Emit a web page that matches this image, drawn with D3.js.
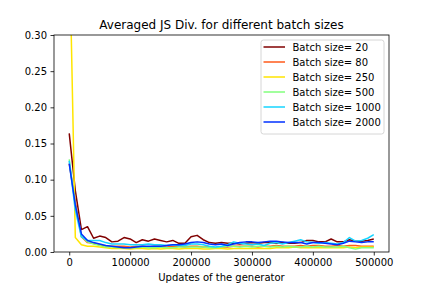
<!DOCTYPE html>
<html>
<head>
<meta charset="utf-8">
<script src="https://cdn.jsdelivr.net/npm/d3@7"></script>
<style>
  body { margin: 0; background: #fff; }
  text { font-family: "DejaVu Sans", sans-serif; fill: #000; }
</style>
</head>
<body>
<div id="chart"></div>
<script>
// steps of the generator
var steps = [0, 10000, 20000, 30000, 40000, 50000, 60000, 70000, 80000, 90000,
  100000, 110000, 120000, 130000, 140000, 150000, 160000, 170000, 180000, 190000,
  200000, 210000, 220000, 230000, 240000, 250000, 260000, 270000, 280000, 290000,
  300000, 310000, 320000, 330000, 340000, 350000, 360000, 370000, 380000, 390000,
  400000, 410000, 420000, 430000, 440000, 450000, 460000, 470000, 480000, 490000, 500000];

var batchSizes = [20, 80, 250, 500, 1000, 2000];
var colors = ["#800000", "#ff5a1a", "#ffe500", "#82ff7c", "#16d4ff", "#0030ff"];

var js20 = [0.164, 0.085, 0.031, 0.035, 0.019, 0.022, 0.020, 0.014, 0.015, 0.020,
  0.018, 0.013, 0.017, 0.015, 0.018, 0.016, 0.014, 0.016, 0.012, 0.012,
  0.021, 0.023, 0.017, 0.013, 0.012, 0.013, 0.012, 0.012, 0.011, 0.012,
  0.013, 0.012, 0.013, 0.013, 0.012, 0.013, 0.012, 0.012, 0.013, 0.016,
  0.016, 0.014, 0.014, 0.018, 0.014, 0.014, 0.017, 0.015, 0.015, 0.016, 0.018];
var js80 = [0.122, 0.070, 0.021, 0.013, 0.012, 0.010, 0.008, 0.008, 0.008, 0.008,
  0.007, 0.008, 0.008, 0.007, 0.008, 0.008, 0.007, 0.008, 0.008, 0.007,
  0.008, 0.008, 0.007, 0.007, 0.006, 0.007, 0.007, 0.008, 0.008, 0.008,
  0.008, 0.007, 0.008, 0.008, 0.009, 0.008, 0.008, 0.008, 0.009, 0.008,
  0.009, 0.009, 0.008, 0.008, 0.009, 0.008, 0.009, 0.009, 0.008, 0.008, 0.008];
var js250 = [0.440, 0.020, 0.010, 0.008, 0.008, 0.007, 0.006, 0.005, 0.005, 0.005,
  0.004, 0.005, 0.005, 0.004, 0.005, 0.004, 0.005, 0.005, 0.004, 0.005,
  0.005, 0.005, 0.004, 0.004, 0.005, 0.005, 0.004, 0.005, 0.005, 0.005,
  0.005, 0.005, 0.005, 0.005, 0.006, 0.006, 0.006, 0.007, 0.006, 0.006,
  0.006, 0.006, 0.006, 0.006, 0.006, 0.006, 0.007, 0.006, 0.007, 0.007, 0.007];
var js500 = [0.128, 0.065, 0.022, 0.014, 0.011, 0.009, 0.007, 0.007, 0.006, 0.006,
  0.006, 0.006, 0.007, 0.006, 0.006, 0.007, 0.006, 0.006, 0.007, 0.007,
  0.007, 0.007, 0.007, 0.006, 0.006, 0.007, 0.008, 0.008, 0.007, 0.008,
  0.007, 0.008, 0.008, 0.007, 0.008, 0.007, 0.008, 0.007, 0.007, 0.008,
  0.007, 0.008, 0.007, 0.007, 0.007, 0.008, 0.006, 0.004, 0.006, 0.006, 0.006];
var js1000 = [0.126, 0.058, 0.021, 0.016, 0.016, 0.016, 0.013, 0.011, 0.011, 0.011,
  0.010, 0.010, 0.010, 0.011, 0.010, 0.010, 0.009, 0.010, 0.009, 0.009,
  0.011, 0.011, 0.010, 0.008, 0.007, 0.008, 0.010, 0.014, 0.012, 0.011,
  0.010, 0.011, 0.009, 0.012, 0.013, 0.011, 0.013, 0.015, 0.017, 0.014,
  0.013, 0.012, 0.013, 0.012, 0.011, 0.013, 0.020, 0.015, 0.016, 0.019, 0.024];
var js2000 = [0.122, 0.065, 0.025, 0.016, 0.013, 0.011, 0.009, 0.008, 0.007, 0.006,
  0.006, 0.007, 0.008, 0.008, 0.008, 0.008, 0.009, 0.010, 0.010, 0.011,
  0.013, 0.014, 0.013, 0.011, 0.010, 0.011, 0.009, 0.011, 0.013, 0.014,
  0.014, 0.013, 0.014, 0.015, 0.015, 0.014, 0.013, 0.013, 0.013, 0.011,
  0.013, 0.013, 0.012, 0.011, 0.010, 0.012, 0.015, 0.014, 0.013, 0.014, 0.014];

var xTicks = [0, 100000, 200000, 300000, 400000, 500000];
var yTicks = [0, 0.05, 0.10, 0.15, 0.20, 0.25, 0.30];

var allSeries = [js20, js80, js250, js500, js1000, js2000];

var width = 432, height = 288;
var margin = { top: 35, right: 43, bottom: 36, left: 54 };

var svg = d3.select("#chart").append("svg")
  .attr("width", width)
  .attr("height", height);

var x = d3.scaleLinear().domain([-25000, 525000]).range([margin.left, width - margin.right]);
var y = d3.scaleLinear().domain([0, 0.3]).range([height - margin.bottom, margin.top]);

svg.append("clipPath").attr("id", "clip")
  .append("rect")
  .attr("x", margin.left).attr("y", margin.top)
  .attr("width", width - margin.left - margin.right)
  .attr("height", height - margin.top - margin.bottom);

var line = d3.line()
  .x(function(d, i) { return x(steps[i]); })
  .y(function(d) { return y(d); });

svg.append("g").attr("clip-path", "url(#clip)")
  .selectAll("path")
  .data(allSeries)
  .enter().append("path")
  .attr("d", line)
  .attr("fill", "none")
  .attr("stroke", function(d, i) { return colors[i]; })
  .attr("stroke-width", 1.5)
  .attr("stroke-linejoin", "round");

// axes
var xAxis = svg.append("g")
  .attr("transform", "translate(0," + (height - margin.bottom) + ")")
  .call(d3.axisBottom(x).tickValues(xTicks).tickFormat(d3.format("d")).tickSizeOuter(0).tickSize(3.5).tickPadding(3.5));
var yAxis = svg.append("g")
  .attr("transform", "translate(" + margin.left + ",0)")
  .call(d3.axisLeft(y).tickValues(yTicks).tickFormat(d3.format(".2f")).tickSizeOuter(0).tickSize(3.5).tickPadding(3.5));

[xAxis, yAxis].forEach(function(a) {
  a.select(".domain").remove();
  a.selectAll("text").style("font-size", "10px").style("font-family", "DejaVu Sans");
  a.selectAll("line").attr("stroke", "#000").attr("stroke-width", 0.8);
});

// frame
svg.append("rect")
  .attr("x", margin.left).attr("y", margin.top)
  .attr("width", width - margin.left - margin.right)
  .attr("height", height - margin.top - margin.bottom)
  .attr("fill", "none").attr("stroke", "#000").attr("stroke-width", 0.8);

svg.append("text")
  .attr("x", (margin.left + width - margin.right) / 2)
  .attr("y", 29)
  .attr("text-anchor", "middle")
  .style("font-size", "12px")
  .text("Averaged JS Div. for different batch sizes");

svg.append("text")
  .attr("x", (margin.left + width - margin.right) / 2)
  .attr("y", 281)
  .attr("text-anchor", "middle")
  .style("font-size", "10px")
  .text("Updates of the generator");

// legend
var legend = svg.append("g");
legend.append("rect")
  .attr("x", 261).attr("y", 40)
  .attr("width", 123).attr("height", 94)
  .attr("rx", 2.5)
  .attr("fill", "#fff").attr("fill-opacity", 0.8)
  .attr("stroke", "#ccc").attr("stroke-width", 0.8);

var entry = legend.selectAll(".entry")
  .data(batchSizes)
  .enter().append("g")
  .attr("class", "entry")
  .attr("transform", function(d, i) { return "translate(0," + (47 + i * 15) + ")"; });

entry.append("line")
  .attr("x1", 263.5).attr("x2", 285)
  .attr("stroke", function(d, i) { return colors[i]; })
  .attr("stroke-width", 1.5);

entry.append("text")
  .attr("x", 292.5).attr("y", 3.5)
  .style("font-size", "10px")
  .text(function(d) { return "Batch size= " + d; });
</script>
</body>
</html>
